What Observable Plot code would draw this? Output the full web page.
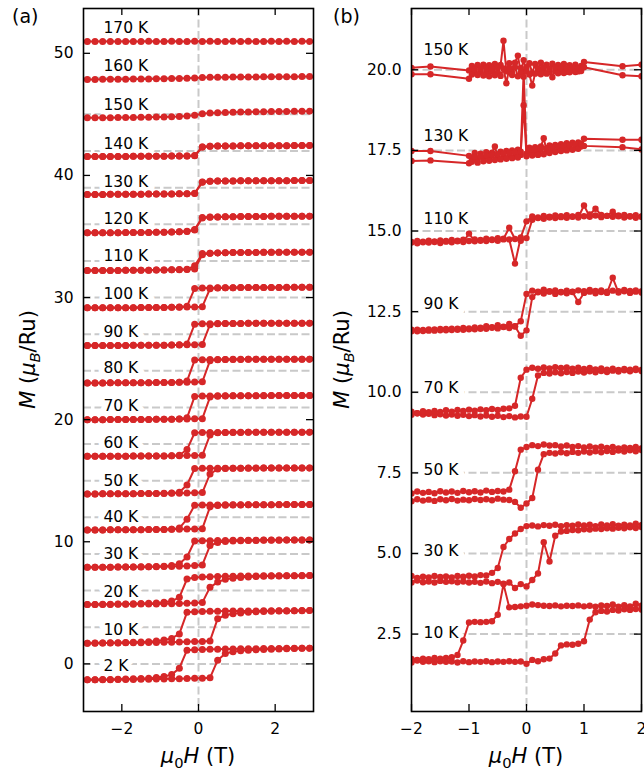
<!DOCTYPE html>
<html><head><meta charset="utf-8">
<script src="https://cdn.jsdelivr.net/npm/d3@7"></script>
<script src="https://cdn.jsdelivr.net/npm/@observablehq/plot@0.6"></script>
<style>
body{margin:0;background:#fff;}
#wrap{position:relative;width:644px;height:776px;overflow:hidden;background:#fff;}
#wrap svg{position:absolute;top:0;}
</style></head><body><div id="wrap"></div>
<script>
// ================= DATA =================
// Panel (a): field sweep values (T)
const fieldA = [-2.9,-2.7,-2.5,-2.3,-2.1,-1.9,-1.7,-1.5,-1.3,-1.1,-0.9,-0.7,-0.5,-0.3,-0.1,0.1,0.3,0.5,0.7,0.9,1.1,1.3,1.5,1.7,1.9,2.1,2.3,2.5,2.7,2.9];
const tempsA = ["2 K","10 K","20 K","30 K","40 K","50 K","60 K","70 K","80 K","90 K","100 K","110 K","120 K","130 K","140 K","150 K","160 K","170 K"];
const offsetsA = [0,3,6,9,12,15,18,21,24,27,30,33,36,39,42,45,48,51];
// M relative to offset, branch sweeping up (- to +) and down (+ to -)
const a2_up = [-1.30,-1.30,-1.29,-1.29,-1.28,-1.27,-1.27,-1.26,-1.25,-1.24,-1.23,-1.22,-1.21,-1.19,-1.18,-1.17,-1.14,0.30,0.85,1.00,1.07,1.12,1.15,1.18,1.20,1.22,1.24,1.25,1.27,1.28];
const a2_dn = [-1.30,-1.29,-1.28,-1.27,-1.26,-1.24,-1.22,-1.20,-1.17,-1.12,-1.04,-0.88,-0.35,1.12,1.15,1.17,1.19,1.20,1.21,1.22,1.23,1.24,1.24,1.25,1.26,1.26,1.27,1.27,1.28,1.28];
const a10_up = [-1.31,-1.31,-1.30,-1.30,-1.29,-1.28,-1.27,-1.26,-1.25,-1.24,-1.23,-1.22,-1.20,-1.19,-1.17,-1.16,-1.12,0.70,0.98,1.10,1.17,1.22,1.26,1.29,1.31,1.33,1.34,1.35,1.36,1.37];
const a10_dn = [-1.31,-1.30,-1.29,-1.28,-1.27,-1.25,-1.23,-1.21,-1.18,-1.13,-1.05,-0.92,-0.55,1.22,1.26,1.28,1.30,1.31,1.32,1.33,1.33,1.34,1.34,1.35,1.35,1.36,1.36,1.36,1.37,1.37];
const a20_up = [-1.14,-1.14,-1.13,-1.13,-1.12,-1.12,-1.11,-1.10,-1.10,-1.09,-1.08,-1.07,-1.05,-1.03,-1.01,-0.98,0.27,0.70,0.92,1.02,1.08,1.12,1.15,1.17,1.19,1.20,1.21,1.22,1.22,1.23];
const a20_dn = [-1.14,-1.13,-1.12,-1.11,-1.10,-1.09,-1.08,-1.06,-1.04,-1.01,-0.96,-0.86,-0.55,0.95,1.08,1.12,1.14,1.16,1.17,1.18,1.19,1.20,1.20,1.21,1.21,1.22,1.22,1.22,1.23,1.23];
const a30_up = [-1.09,-1.09,-1.08,-1.08,-1.07,-1.07,-1.06,-1.06,-1.05,-1.04,-1.03,-1.02,-1.00,-0.98,-0.95,-0.90,0.69,0.93,1.02,1.06,1.09,1.10,1.11,1.12,1.13,1.13,1.14,1.14,1.15,1.15];
const a30_dn = [-1.09,-1.09,-1.08,-1.08,-1.07,-1.06,-1.06,-1.05,-1.04,-1.02,-1.00,-0.95,-0.80,-0.25,1.06,1.08,1.09,1.10,1.11,1.12,1.12,1.13,1.13,1.14,1.14,1.14,1.15,1.15,1.15,1.15];
const a40_up = [-1.03,-1.03,-1.03,-1.02,-1.02,-1.02,-1.01,-1.01,-1.00,-1.00,-0.99,-0.98,-0.97,-0.96,-0.95,-0.93,0.85,0.97,1.00,1.01,1.02,1.03,1.03,1.04,1.04,1.04,1.05,1.05,1.05,1.05];
const a40_dn = [-1.03,-1.03,-1.03,-1.02,-1.02,-1.02,-1.01,-1.01,-1.00,-1.00,-0.99,-0.97,-0.88,-0.15,1.00,1.01,1.02,1.02,1.03,1.03,1.03,1.04,1.04,1.04,1.04,1.05,1.05,1.05,1.05,1.05];
const a50_up = [-1.08,-1.08,-1.07,-1.07,-1.07,-1.06,-1.06,-1.05,-1.05,-1.04,-1.04,-1.03,-1.02,-1.01,-0.99,-0.97,0.55,0.95,0.99,1.01,1.02,1.03,1.03,1.04,1.04,1.04,1.05,1.05,1.05,1.05];
const a50_dn = [-1.08,-1.08,-1.07,-1.07,-1.07,-1.06,-1.06,-1.05,-1.05,-1.04,-1.03,-1.01,-0.95,-0.35,1.00,1.01,1.02,1.02,1.03,1.03,1.03,1.04,1.04,1.04,1.04,1.05,1.05,1.05,1.05,1.05];
const a60_up = [-1.00,-1.00,-1.00,-0.99,-0.99,-0.99,-0.98,-0.98,-0.98,-0.97,-0.97,-0.96,-0.95,-0.94,-0.93,-0.92,0.75,0.92,0.94,0.95,0.95,0.96,0.96,0.96,0.97,0.97,0.97,0.97,0.97,0.97];
const a60_dn = [-1.00,-1.00,-1.00,-0.99,-0.99,-0.99,-0.98,-0.98,-0.98,-0.97,-0.97,-0.96,-0.92,-0.45,0.93,0.94,0.95,0.95,0.95,0.96,0.96,0.96,0.96,0.97,0.97,0.97,0.97,0.97,0.97,0.97];
const a70_up = [-1.00,-1.00,-1.00,-0.99,-0.99,-0.99,-0.98,-0.98,-0.98,-0.97,-0.97,-0.96,-0.95,-0.94,-0.93,-0.92,0.85,0.92,0.94,0.95,0.95,0.96,0.96,0.96,0.97,0.97,0.97,0.97,0.97,0.97];
const a70_dn = [-1.00,-1.00,-1.00,-0.99,-0.99,-0.99,-0.98,-0.98,-0.98,-0.97,-0.97,-0.96,-0.94,-0.85,0.90,0.93,0.94,0.95,0.95,0.96,0.96,0.96,0.96,0.97,0.97,0.97,0.97,0.97,0.97,0.97];
const a80_up = [-0.99,-0.99,-0.99,-0.98,-0.98,-0.98,-0.97,-0.97,-0.97,-0.96,-0.96,-0.95,-0.94,-0.93,-0.92,-0.90,0.83,0.90,0.92,0.93,0.93,0.94,0.94,0.94,0.95,0.95,0.95,0.95,0.95,0.95];
const a80_dn = [-0.99,-0.99,-0.99,-0.98,-0.98,-0.98,-0.97,-0.97,-0.97,-0.96,-0.96,-0.95,-0.93,-0.84,0.88,0.91,0.92,0.93,0.93,0.94,0.94,0.94,0.94,0.95,0.95,0.95,0.95,0.95,0.95,0.95];
const a90_up = [-0.93,-0.93,-0.93,-0.92,-0.92,-0.92,-0.91,-0.91,-0.91,-0.90,-0.90,-0.89,-0.88,-0.87,-0.86,-0.84,0.78,0.85,0.87,0.88,0.88,0.89,0.89,0.89,0.90,0.90,0.90,0.90,0.90,0.90];
const a90_dn = [-0.93,-0.93,-0.93,-0.92,-0.92,-0.92,-0.91,-0.91,-0.91,-0.90,-0.90,-0.89,-0.87,-0.80,0.82,0.85,0.86,0.87,0.87,0.88,0.88,0.89,0.89,0.89,0.90,0.90,0.90,0.90,0.90,0.90];
const a100_up = [-0.84,-0.84,-0.84,-0.84,-0.83,-0.83,-0.83,-0.82,-0.82,-0.82,-0.81,-0.80,-0.79,-0.78,-0.77,-0.75,0.72,0.78,0.80,0.81,0.82,0.82,0.83,0.83,0.83,0.83,0.84,0.84,0.84,0.84];
const a100_dn = [-0.84,-0.84,-0.84,-0.84,-0.83,-0.83,-0.83,-0.82,-0.82,-0.82,-0.81,-0.80,-0.78,-0.72,0.75,0.78,0.79,0.80,0.81,0.81,0.82,0.82,0.82,0.83,0.83,0.83,0.83,0.84,0.84,0.84];
const a110_up = [-0.79,-0.79,-0.78,-0.78,-0.78,-0.77,-0.77,-0.76,-0.76,-0.75,-0.74,-0.73,-0.72,-0.70,-0.66,0.50,0.62,0.65,0.67,0.68,0.68,0.69,0.69,0.70,0.70,0.70,0.71,0.71,0.71,0.71];
const a110_dn = [-0.79,-0.79,-0.78,-0.78,-0.78,-0.77,-0.77,-0.76,-0.76,-0.75,-0.74,-0.73,-0.71,-0.68,-0.40,0.60,0.63,0.65,0.67,0.68,0.68,0.69,0.69,0.70,0.70,0.70,0.71,0.71,0.71,0.71];
const a120_up = [-0.70,-0.70,-0.69,-0.69,-0.69,-0.68,-0.68,-0.67,-0.67,-0.66,-0.65,-0.64,-0.62,-0.60,-0.47,0.52,0.58,0.60,0.61,0.62,0.63,0.63,0.64,0.64,0.65,0.65,0.65,0.66,0.66,0.66];
const a120_dn = [-0.70,-0.70,-0.69,-0.69,-0.69,-0.68,-0.68,-0.67,-0.67,-0.66,-0.65,-0.64,-0.62,-0.58,-0.42,0.55,0.59,0.60,0.61,0.62,0.63,0.63,0.64,0.64,0.65,0.65,0.65,0.66,0.66,0.66];
const a130_up = [-0.56,-0.56,-0.56,-0.55,-0.55,-0.55,-0.54,-0.54,-0.53,-0.53,-0.52,-0.52,-0.51,-0.50,-0.48,0.45,0.52,0.54,0.55,0.55,0.56,0.56,0.56,0.57,0.57,0.57,0.57,0.58,0.58,0.58];
const a130_dn = [-0.56,-0.56,-0.56,-0.55,-0.55,-0.55,-0.54,-0.54,-0.53,-0.53,-0.52,-0.52,-0.51,-0.50,-0.46,0.47,0.52,0.54,0.55,0.55,0.56,0.56,0.56,0.57,0.57,0.57,0.57,0.58,0.58,0.58];
const a140_up = [-0.45,-0.45,-0.45,-0.44,-0.44,-0.44,-0.43,-0.43,-0.43,-0.42,-0.42,-0.41,-0.41,-0.40,-0.38,0.32,0.39,0.41,0.42,0.42,0.43,0.43,0.43,0.44,0.44,0.44,0.44,0.45,0.45,0.45];
const a140_dn = [-0.45,-0.45,-0.45,-0.44,-0.44,-0.44,-0.43,-0.43,-0.43,-0.42,-0.42,-0.41,-0.41,-0.40,-0.37,0.33,0.39,0.41,0.42,0.42,0.43,0.43,0.43,0.44,0.44,0.44,0.44,0.45,0.45,0.45];
const a150 = [-0.28,-0.28,-0.27,-0.27,-0.26,-0.26,-0.25,-0.24,-0.23,-0.22,-0.21,-0.19,-0.17,-0.13,-0.07,0.05,0.11,0.14,0.16,0.18,0.19,0.20,0.21,0.22,0.23,0.24,0.24,0.25,0.25,0.26];
const a160 = [-0.14,-0.14,-0.13,-0.13,-0.12,-0.12,-0.11,-0.11,-0.10,-0.09,-0.08,-0.07,-0.06,-0.04,-0.02,0.01,0.03,0.04,0.05,0.06,0.06,0.07,0.07,0.08,0.08,0.09,0.09,0.09,0.10,0.10];
const a170 = [-0.04,-0.03,-0.04,-0.03,-0.03,-0.04,-0.03,-0.03,-0.02,-0.03,-0.03,-0.02,-0.03,-0.03,-0.02,-0.03,-0.02,-0.03,-0.03,-0.02,-0.03,-0.02,-0.03,-0.03,-0.02,-0.03,-0.02,-0.03,-0.02,-0.03];

// Panel (b): field values (T)
const fieldB = [-2.1,-2.0,-1.9,-1.8,-1.7,-1.6,-1.5,-1.4,-1.3,-1.2,-1.1,-1.0,-0.9,-0.8,-0.7,-0.6,-0.5,-0.4,-0.3,-0.2,-0.1,0,0.1,0.2,0.3,0.4,0.5,0.6,0.7,0.8,0.9,1.0,1.1,1.2,1.3,1.4,1.5,1.6,1.7,1.8,1.9,2.0,2.1];
const fieldC = [-2.0,-1.67,-1.0,-0.95,-0.9,-0.85,-0.8,-0.75,-0.7,-0.65,-0.6,-0.55,-0.5,-0.45,-0.4,-0.35,-0.3,-0.25,-0.2,-0.15,-0.1,-0.05,0,0.05,0.1,0.15,0.2,0.25,0.3,0.35,0.4,0.45,0.5,0.55,0.6,0.65,0.7,0.75,0.8,0.85,0.9,0.95,1.0,1.67,2.0];
const tempsB = ["10 K","30 K","50 K","70 K","90 K","110 K","130 K","150 K"];
const gridB = [2.5,5.0,7.5,10.0,12.5,15.0,17.5,20.0];
const b10_up = [1.66,1.62,1.68,1.64,1.66,1.63,1.66,1.64,1.65,1.62,1.66,1.63,1.65,1.64,1.66,1.63,1.65,1.64,1.66,1.64,1.65,1.58,1.70,1.66,1.72,1.74,1.90,2.15,2.18,2.17,2.20,2.28,2.95,3.18,3.22,3.20,3.25,3.23,3.27,3.25,3.28,3.26,3.30];
const b10_dn = [1.70,1.73,1.70,1.74,1.72,1.76,1.74,1.76,1.78,1.85,2.30,2.86,2.88,2.87,2.88,2.90,3.10,4.05,3.33,3.34,3.36,3.38,3.42,3.40,3.38,3.37,3.39,3.36,3.38,3.37,3.39,3.36,3.38,3.35,3.39,3.37,3.42,3.35,3.40,3.36,3.44,3.38,3.42];
const b30_up = [4.14,4.10,4.16,4.11,4.13,4.10,4.15,4.12,4.14,4.11,4.13,4.10,4.12,4.09,4.13,4.08,4.12,4.06,4.10,3.93,4.05,3.98,4.18,4.38,5.35,4.75,5.55,5.68,5.70,5.73,5.72,5.75,5.74,5.77,5.76,5.78,5.77,5.80,5.78,5.81,5.79,5.82,5.80];
const b30_dn = [4.25,4.30,4.24,4.28,4.26,4.30,4.27,4.29,4.26,4.30,4.28,4.31,4.29,4.33,4.32,4.40,4.55,5.20,5.45,5.62,5.76,5.85,5.87,5.84,5.88,5.86,5.89,5.85,5.88,5.86,5.90,5.87,5.89,5.85,5.90,5.87,5.91,5.86,5.89,5.87,5.92,5.88,5.90];
const b50_up = [6.66,6.62,6.68,6.64,6.67,6.63,6.68,6.65,6.69,6.64,6.67,6.65,6.69,6.66,6.68,6.65,6.70,6.67,6.66,6.60,6.42,6.55,6.72,7.60,8.08,8.12,8.10,8.14,8.11,8.15,8.12,8.16,8.13,8.17,8.14,8.18,8.15,8.19,8.16,8.20,8.17,8.21,8.19];
const b50_dn = [6.90,6.86,6.92,6.88,6.91,6.87,6.93,6.89,6.92,6.88,6.94,6.90,6.93,6.89,6.95,6.91,6.94,6.92,6.98,7.55,8.22,8.30,8.36,8.33,8.38,8.35,8.36,8.32,8.35,8.30,8.33,8.29,8.32,8.28,8.31,8.27,8.30,8.26,8.29,8.27,8.30,8.26,8.29];
const b70_up = [9.33,9.30,9.35,9.31,9.33,9.29,9.32,9.28,9.31,9.27,9.30,9.26,9.29,9.25,9.28,9.24,9.27,9.23,9.26,9.22,9.25,9.24,9.80,10.52,10.60,10.58,10.62,10.59,10.63,10.60,10.64,10.61,10.65,10.62,10.66,10.63,10.67,10.64,10.68,10.65,10.69,10.66,10.70];
const b70_dn = [9.36,9.40,9.35,9.41,9.38,9.42,9.39,9.44,9.40,9.45,9.42,9.46,9.43,9.47,9.44,9.48,9.45,9.49,9.50,9.58,10.45,10.70,10.76,10.73,10.77,10.74,10.78,10.75,10.77,10.73,10.76,10.72,10.75,10.71,10.74,10.70,10.73,10.69,10.72,10.70,10.73,10.69,10.72];
const b90_up = [11.90,11.94,11.89,11.93,11.91,11.95,11.92,11.96,11.93,11.97,11.94,11.98,11.95,12.00,11.97,12.02,11.98,12.03,11.99,12.04,11.75,11.92,12.95,13.10,13.06,13.12,13.05,13.10,13.07,13.11,12.80,13.08,13.12,13.07,13.11,13.08,13.55,13.09,13.13,13.08,13.12,13.09,13.13];
const b90_dn = [11.93,11.89,11.94,11.90,11.95,11.91,11.96,11.92,11.97,11.94,11.99,11.95,12.01,11.97,12.05,12.00,12.08,12.02,12.12,12.05,12.20,13.05,13.15,13.12,13.18,13.13,13.16,13.11,13.15,13.12,13.16,13.13,13.17,13.14,13.16,13.12,13.15,13.13,13.17,13.14,13.16,13.13,13.15];
const b110_up = [14.63,14.66,14.62,14.67,14.64,14.68,14.63,14.69,14.65,14.70,14.66,14.92,14.68,14.72,14.69,14.74,14.70,14.76,15.10,14.75,14.70,14.78,15.35,15.42,15.38,15.44,15.40,15.46,15.41,15.45,15.42,15.79,15.44,15.48,15.43,15.47,15.44,15.48,15.42,15.46,15.41,15.45,15.40];
const b110_dn = [14.68,14.64,14.69,14.65,14.70,14.66,14.71,14.67,14.72,14.68,14.73,14.69,14.74,14.70,14.76,14.72,14.78,14.74,14.74,13.99,14.80,15.30,15.45,15.40,15.47,15.42,15.48,15.43,15.49,15.44,15.50,15.46,15.51,15.69,15.50,15.47,15.60,15.46,15.50,15.45,15.49,15.44,15.48];
const b130_a = [17.48,17.48,17.33,17.22,17.42,17.25,17.40,17.24,17.44,17.27,17.43,17.62,17.28,17.46,17.30,17.48,17.31,17.50,17.33,17.52,17.36,19.95,17.40,17.58,17.38,17.60,17.42,17.62,17.88,17.48,17.65,17.50,17.67,17.52,17.69,17.55,17.72,17.57,17.74,17.58,17.75,17.62,17.86,17.83,17.83];
const b130_b = [17.17,17.19,17.10,17.15,17.30,17.12,17.32,17.16,17.35,17.18,17.36,17.20,17.38,17.22,17.40,17.24,17.42,17.26,17.44,17.28,17.46,18.90,17.32,17.50,17.34,17.52,17.36,17.55,17.38,17.57,17.42,17.60,17.45,17.62,17.48,17.64,17.50,17.66,17.52,17.68,17.55,17.70,17.64,17.60,17.53];
const b150_a = [20.06,20.10,19.98,20.12,19.92,20.15,19.94,20.16,19.93,20.14,19.95,20.18,19.92,20.15,20.90,19.95,20.20,19.90,20.22,20.44,19.92,20.30,19.95,20.20,19.90,20.18,19.94,20.22,19.96,20.16,19.93,20.19,19.95,20.15,19.97,20.18,19.94,20.14,19.98,20.16,19.95,20.12,20.24,20.11,20.16];
const b150_b = [19.86,19.86,19.72,19.85,20.02,19.84,20.04,19.82,20.05,19.80,20.03,19.83,20.06,19.81,20.04,19.58,20.05,19.84,20.08,19.80,20.06,19.78,20.08,19.85,19.51,19.88,20.05,19.86,20.07,19.88,20.04,19.77,20.06,19.89,20.05,19.90,20.04,19.92,20.06,19.93,20.05,19.96,20.08,19.83,19.80];

// ================= BUILD =================
const RED = "#d62728", GRID = "#c9c9c9";
const seriesA = [[a2_up,a2_dn],[a10_up,a10_dn],[a20_up,a20_dn],[a30_up,a30_dn],[a40_up,a40_dn],[a50_up,a50_dn],[a60_up,a60_dn],[a70_up,a70_dn],[a80_up,a80_dn],[a90_up,a90_dn],[a100_up,a100_dn],[a110_up,a110_dn],[a120_up,a120_dn],[a130_up,a130_dn],[a140_up,a140_dn],[a150],[a160],[a170]];
const rowsA = [];
seriesA.forEach((branches, i) => branches.forEach((arr, b) => {
  arr.forEach((m, k) => { if (k < fieldA.length) rowsA.push({key: tempsA[i] + b, H: fieldA[k], M: m + offsetsA[i]}); });
}));
const seriesB = [[fieldB,b10_up],[fieldB,b10_dn],[fieldB,b30_up],[fieldB,b30_dn],[fieldB,b50_up],[fieldB,b50_dn],[fieldB,b70_up],[fieldB,b70_dn],[fieldB,b90_up],[fieldB,b90_dn],[fieldB,b110_up],[fieldB,b110_dn],[fieldC,b130_a],[fieldC,b130_b],[fieldC,b150_a],[fieldC,b150_b]];
const rowsB = [];
seriesB.forEach(([f, arr], s) => arr.forEach((m, k) => { if (k < f.length) rowsB.push({key: s, H: f[k], M: m}); }));

// temperature annotation vertical positions (data units)
const labelYA = [-0.2,2.8,5.9,9.0,12.0,14.95,18.1,21.1,24.2,27.2,30.3,33.4,36.45,39.5,42.6,45.8,48.95,52.05];
const labelYB = [2.54,5.08,7.59,10.13,12.73,15.38,17.94,20.62];
const labsA = tempsA.map((t, i) => ({t, y: labelYA[i]}));
const labsB = tempsB.map((t, i) => ({t, y: labelYB[i]}));

const minus = d => d < 0 ? "\u2212" + Math.abs(d) : String(d);
const H = 776, MT = 8, MB = 65, FH = H - MT - MB;

function panel({width, ml, mr, xDomain, yDomain, xTicks, yTicks, yFmt, rows, grid, labs, labX, r}) {
  const FW = width - ml - mr;
  return Plot.plot({
    width, height: H, marginLeft: ml, marginRight: mr, marginTop: MT, marginBottom: MB,
    x: {domain: xDomain, label: null}, y: {domain: yDomain, label: null},
    style: {fontFamily: "DejaVu Sans", fontSize: "15.5px", background: "white", color: "black"},
    marks: [
      Plot.ruleY(grid, {stroke: GRID, strokeWidth: 2, strokeDasharray: "8,3.5"}),
      Plot.ruleX([0], {stroke: GRID, strokeWidth: 2, strokeDasharray: "8,3.5"}),
      Plot.text(labs, {x: labX, y: "y", text: "t", textAnchor: "start", fontSize: 15.5, fill: "white", stroke: "white", strokeWidth: 12, strokeLinejoin: "round"}),
      Plot.text(labs, {x: labX, y: "y", text: "t", textAnchor: "start", fontSize: 15.5, fill: "black"}),
      Plot.line(rows, {x: "H", y: "M", z: "key", stroke: RED, strokeWidth: 2, clip: true, curve: "linear"}),
      Plot.dot(rows, {x: "H", y: "M", r, fill: RED, stroke: "none", clip: true}),
      Plot.frame({stroke: "black", strokeWidth: 1.6}),
      Plot.ruleX(xTicks, {insetTop: FH - 7, stroke: "black", strokeWidth: 1.3}),
      Plot.ruleX(xTicks, {insetBottom: FH - 7, stroke: "black", strokeWidth: 1.3}),
      Plot.ruleY(yTicks, {insetRight: FW - 7, stroke: "black", strokeWidth: 1.3}),
      Plot.ruleY(yTicks, {insetLeft: FW - 7, stroke: "black", strokeWidth: 1.3}),
      Plot.axisX(xTicks, {tickSize: 0, tickPadding: 11, tickFormat: minus, fontSize: 15.5, label: null}),
      Plot.axisY(yTicks, {tickSize: 0, tickPadding: 10, tickFormat: yFmt, fontSize: 15.5, label: null})
    ]
  });
}

function rich(svg, x, y, size, parts, rotate) {
  const t = d3.select(svg).append("text")
    .attr("transform", `translate(${x},${y})` + (rotate ? ` rotate(${rotate})` : ""))
    .attr("text-anchor", "middle").attr("font-family", "DejaVu Sans")
    .attr("font-size", size).attr("fill", "black").style("white-space", "pre");
  let shift = 0;
  for (const [s, o = {}] of parts) {
    const ts = t.append("tspan").text(s);
    if (o.it) ts.attr("font-style", "italic");
    const want = o.sub ? size * 0.24 : 0;
    if (want !== shift) { ts.attr("dy", want - shift); shift = want; }
    if (o.sub) ts.attr("font-size", size * 0.7);
  }
}
function plain(svg, x, y, size, s) {
  d3.select(svg).append("text").attr("x", x).attr("y", y).attr("text-anchor", "start")
    .attr("font-family", "DejaVu Sans").attr("font-size", size).attr("fill", "black").text(s);
}

const wrap = document.getElementById("wrap");
const svgA = panel({width: 330, ml: 83, mr: 17, xDomain: [-3, 3], yDomain: [-3.9, 53.67],
  xTicks: [-2, 0, 2], yTicks: [0, 10, 20, 30, 40, 50], yFmt: minus, rows: rowsA,
  grid: offsetsA, labs: labsA, labX: -2.48, r: 3.5});
svgA.style.left = "0px";
wrap.appendChild(svgA);
const svgB = panel({width: 314, ml: 81, mr: 3, xDomain: [-2, 2], yDomain: [0.1, 21.9],
  xTicks: [-2, -1, 0, 1, 2], yTicks: gridB, yFmt: d3.format(".1f"), rows: rowsB,
  grid: gridB, labs: labsB, labX: -1.79, r: 3.2});
svgB.style.left = "330px";
wrap.appendChild(svgB);

const xl = [["\u03bc", {it: true}], ["0", {sub: true}], ["H", {it: true}], [" (T)"]];
const yl = [["M", {it: true}], [" ("], ["\u03bc", {it: true}], ["B", {it: true, sub: true}], ["/Ru)"]];
rich(svgA, 198, 763, 21, xl);
rich(svgA, 35, 359.5, 21, yl, -90);
rich(svgB, 196, 763, 21, xl);
rich(svgB, 19, 359.5, 21, yl, -90);
plain(svgA, 12, 23, 19, "(a)");
plain(svgB, 3, 23, 19, "(b)");
</script></body></html>
